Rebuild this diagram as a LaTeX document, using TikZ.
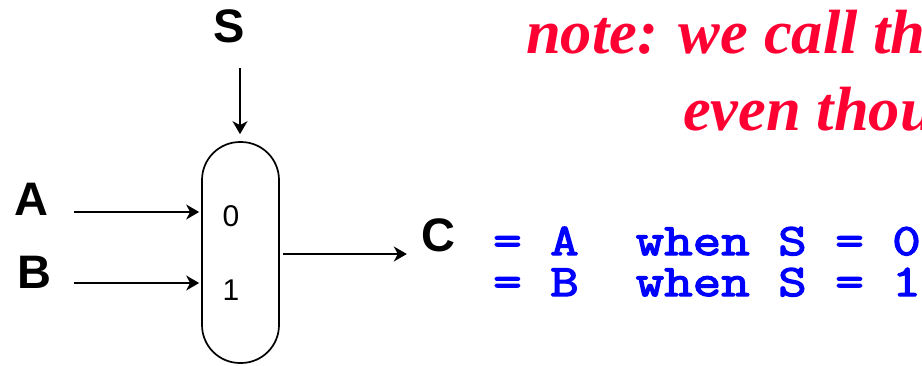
\documentclass[tikz,border=0pt]{standalone}
\usepackage{fontspec}
\setmainfont{Liberation Sans}
\newfontfamily\notefont{Liberation Serif}
\newfontfamily\codefont[FakeBold=3,FakeStretch=1.23]{Latin Modern Mono}
\usepackage{xcolor}
\usetikzlibrary{arrows.meta}
\definecolor{notered}{RGB}{255,0,51}
\definecolor{codeblue}{RGB}{0,0,255}
\begin{document}
\begin{tikzpicture}[x=1pt,y=-1pt,>={Stealth[inset=4pt,length=13pt,width=15pt]},
  sig/.style={font=\fontsize{47}{47}\selectfont\bfseries,inner sep=0pt},
  num/.style={font=\fontsize{30}{30}\selectfont,inner sep=0pt},
  notetext/.style={font=\fontsize{62.5}{62.5}\notefont\bfseries\itshape,text=notered,anchor=base west,inner sep=0pt},
  codetext/.style={font=\fontsize{45}{45}\codefont,text=codeblue,anchor=base west,inner sep=0pt},
  wire/.style={line width=1.6pt,->}]
 \useasboundingbox (0,0) rectangle (922,365);
 \node[draw,line width=1.7pt,rounded corners=38pt,minimum width=77pt,minimum height=221pt,inner sep=0pt] (mux) at (240.5,252.5){};
 % signals
 \node[sig] (s) at (229,26){S};
 \node[sig] (a) at (31,199){A};
 \node[sig] (b) at (34,272){B};
 \node[sig] (c) at (438,235){C};
 \node[num] (zero) at (231,216){0};
 \node[num] (one) at (231,290){1};
 \coordinate (sin) at (240,68);
 \coordinate (ain) at (74,212);
 \coordinate (bin) at (74,283);
 \coordinate (cout) at (283,254);
 \draw[wire] (sin) -- ([yshift=7pt]mux.north -| sin);
 \draw[wire] (ain) -- ([xshift=-2pt]mux.west |- ain);
 \draw[wire] (bin) -- ([xshift=-2pt]mux.west |- bin);
 \draw[wire] (cout) -- ([xshift=-14pt]c.west |- cout);
 % note
 \node[notetext] (note1) at (526,53){note: we call th};
 \node[notetext] (note2) at (683,130){even thou};
 \node[codetext] (line1) at (493,255){= A\ \ when S = 0};
 \node[codetext] (line2) at (493,296){= B\ \ when S = 1};
\end{tikzpicture}
\end{document}
